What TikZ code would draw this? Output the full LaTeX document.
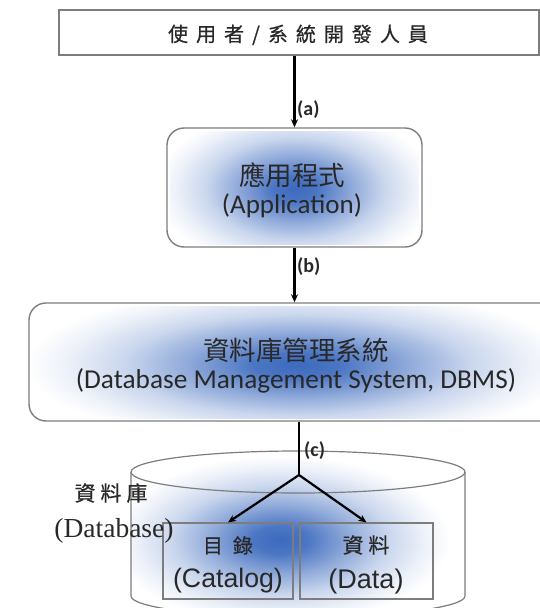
\documentclass[tikz,border=0pt]{standalone}
\usepackage{fontspec}
\setmainfont{Carlito}
\newfontfamily\cjk{Noto Sans CJK TC}
\newfontfamily\cjkb[FakeBold=0.6]{Noto Sans CJK TC}
\newfontfamily\arialf{Liberation Sans}
\newfontfamily\timesf{Liberation Serif}
\usetikzlibrary{arrows.meta}
\definecolor{glowc}{RGB}{60,106,190}
\definecolor{edgec}{RGB}{125,125,125}
\definecolor{txtc}{RGB}{40,40,40}
\pgfdeclareradialshading{glow}{\pgfpoint{0bp}{0bp}}{color(0bp)=(glowc); color(4bp)=(glowc!92!white); color(10bp)=(glowc!58!white); color(16bp)=(glowc!27!white); color(21bp)=(glowc!10!white); color(25bp)=(white); color(50bp)=(white)}
\newcommand{\cg}[1]{\hspace{#1pt}}
\begin{document}
\begin{tikzpicture}[x=1pt,y=-1pt,
  box/.style={draw=edgec, line width=1.4pt, inner sep=0pt},
  rbox/.style={box, rounded corners=17pt},
  ibox/.style={draw=edgec, line width=1.2pt, inner sep=0pt},
  cyl/.style={draw=edgec, line width=1.2pt},
  txt/.style={text=txtc, inner sep=0pt, anchor=base},
  conn/.style={-{Stealth[length=8pt,width=7pt]}, line width=2.2pt, black},
  plain/.style={line width=2.2pt, black},
  lab/.style={text=txtc, inner sep=0pt, anchor=west, font=\bfseries\fontsize{20}{20}\selectfont}]
\useasboundingbox (0,0) rectangle (540,608);
\clip (0,0) rectangle (540,608);

% glows
\begin{scope}
  \clip (170,131) rectangle (419,244);
  \shade[shading=glow] (155,108) rectangle (435,270);
\end{scope}
\begin{scope}
  \clip (32,306) rectangle (540,418);
  \shade[shading=glow] (25,286) rectangle (570,444);
\end{scope}
\begin{scope}
  \clip (131,472) -- (131,596) arc[start angle=180, end angle=0, x radius=167, y radius=21]
        -- (465,472) arc[start angle=0, end angle=-180, x radius=167, y radius=21] -- cycle;
  \shade[shading=glow] (110,455) rectangle (450,625);
\end{scope}

% boxes
\node[box, minimum width=480pt, minimum height=45pt] (user) at (299,32.5) {};
\node[rbox, minimum width=255pt, minimum height=119pt] (app) at (294.5,187.5) {};
\node[rbox, minimum width=562pt, minimum height=118pt] (dbms) at (310,362) {};

% cylinder
\draw[cyl] (131,472) -- (131,596) arc[start angle=180, end angle=0, x radius=167, y radius=21] -- (465,472);
\draw[cyl] (298,472) ellipse [x radius=167, y radius=21];
\node[ibox, minimum width=130pt, minimum height=76pt] (cat) at (228,561) {};
\node[ibox, minimum width=133pt, minimum height=76pt] (dat) at (366.5,561) {};

% texts
\node[txt] (usertxt) at (298,41.5) {\cjkb\fontsize{20}{20}\selectfont 使\cg8用\cg8者\cg8/\cg8系\cg8統\cg8開\cg8發\cg8人\cg8員};
\node[txt] (appzh) at (292,185) {\cjk\fontsize{26.5}{26.5}\selectfont 應用程式};
\node[txt] (appen) at (292,213) {\fontsize{27}{27}\selectfont (Application)};
\node[txt] (dbmszh) at (296,360) {\cjk\fontsize{26.5}{26.5}\selectfont 資料庫管理系統};
\node[txt] (dbmsen) at (296,388) {\fontsize{27.3}{27.3}\selectfont (Database Management System, DBMS)};
\node[txt] (catzh) at (228,553) {\cjkb\fontsize{20}{20}\selectfont 目\cg{10}錄};
\node[txt] (caten) at (228,587) {\arialf\fontsize{26.7}{26.7}\selectfont (Catalog)};
\node[txt] (datzh) at (366,553) {\cjkb\fontsize{21}{21}\selectfont 資\cg5料};
\node[txt] (daten) at (366,588) {\arialf\fontsize{27}{27}\selectfont (Data)};
\node[txt] (dbzh) at (111,501) {\cjkb\fontsize{21}{21}\selectfont 資\cg5料\cg5庫};
\node[txt] (dben) at (114,537) {\timesf\fontsize{27.5}{27.5}\selectfont (Database)};

% connectors
\draw[conn] (app.north |- user.south) -- (app.north);
\draw[conn] (app.south) -- (app.south |- dbms.north);
\coordinate (br) at (299,475);
\draw[plain] (br |- dbms.south) -- (br);
\draw[conn] (br) -- (cat.north);
\draw[conn] (br) -- (dat.north);

\node[lab] (la) at (297,110) {(a)};
\node[lab] (lb) at (297,267) {(b)};
\node[lab] (lc) at (304,451) {(c)};
\end{tikzpicture}
\end{document}
